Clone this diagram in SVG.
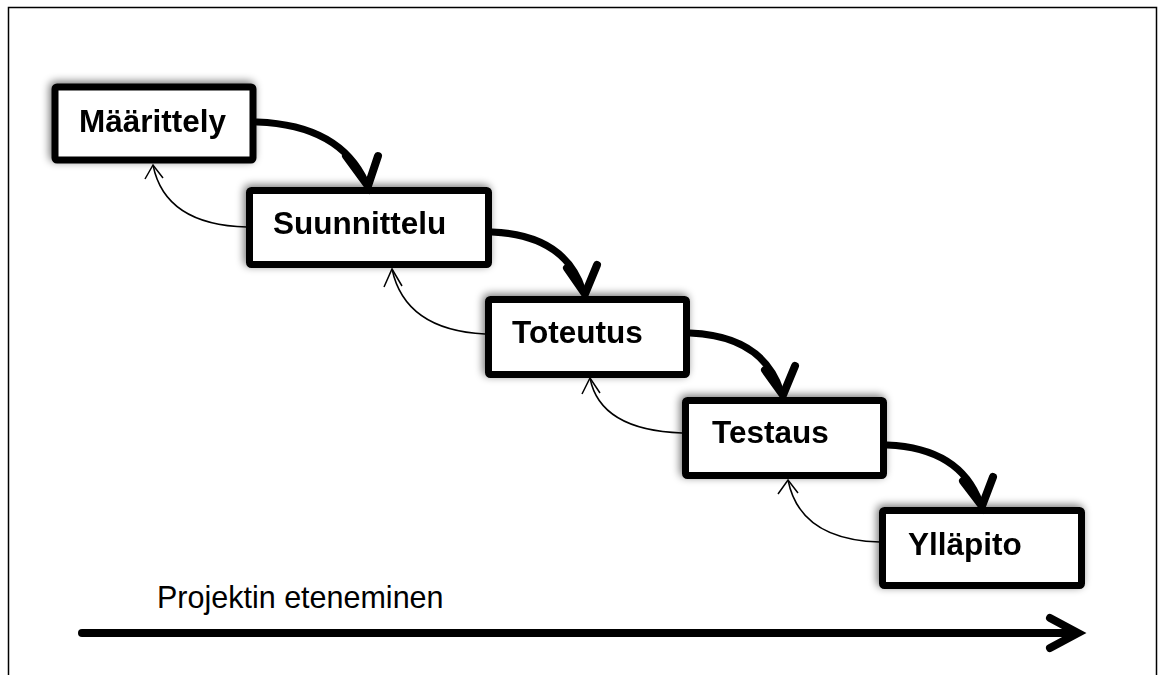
<svg xmlns="http://www.w3.org/2000/svg" width="1163" height="675" viewBox="0 0 1163 675">
  <defs>
    <filter id="shadow" x="-20%" y="-40%" width="140%" height="180%">
      <feGaussianBlur in="SourceAlpha" stdDeviation="4" result="b"/>
      <feOffset in="b" dx="-2" dy="-2" result="o"/>
      <feComponentTransfer in="o" result="s">
        <feFuncA type="linear" slope="0.55"/>
      </feComponentTransfer>
      <feMerge>
        <feMergeNode in="s"/>
        <feMergeNode in="SourceGraphic"/>
      </feMerge>
    </filter>
  </defs>
  <style>
    .box { fill: #ffffff; stroke: #000000; stroke-width: 7; stroke-linejoin: round; }
    .label { font-family: "Liberation Sans", Arial, sans-serif; font-weight: bold; font-size: 31.5px; fill: #000000; }
    .fwd { fill: none; stroke: #000000; stroke-width: 7; stroke-linecap: round; }
    .fwdhead { fill: none; stroke: #000000; stroke-width: 8; stroke-linecap: round; stroke-linejoin: miter; }
    .back { fill: none; stroke: #000000; stroke-width: 1.5; }
    .backhead { fill: none; stroke: #000000; stroke-width: 1.5; stroke-linecap: butt; }
    .axis { fill: none; stroke: #000000; stroke-width: 8; stroke-linecap: round; stroke-linejoin: miter; }
    .axislabel { font-family: "Liberation Sans", Arial, sans-serif; font-size: 30.5px; fill: #000000; }
  </style>
  <rect x="0" y="0" width="1163" height="675" fill="#ffffff"/>
  <path d="M8.5,675 V7.5 H1156.5 V675" fill="none" stroke="#000000" stroke-width="1.5"/>

  <g id="node-maarittely" filter="url(#shadow)">
    <rect class="box" x="55" y="87" width="198" height="73" rx="2"/>
    <text class="label" x="79" y="132">Määrittely</text>
  </g>
  <g id="node-suunnittelu" filter="url(#shadow)">
    <rect class="box" x="249.5" y="190.5" width="239" height="74" rx="2"/>
    <text class="label" x="273" y="234">Suunnittelu</text>
  </g>
  <g id="node-toteutus" filter="url(#shadow)">
    <rect class="box" x="488.5" y="299.5" width="198" height="75" rx="2"/>
    <text class="label" x="512" y="343">Toteutus</text>
  </g>
  <g id="node-testaus" filter="url(#shadow)">
    <rect class="box" x="685.5" y="400.5" width="198" height="75" rx="2"/>
    <text class="label" x="712" y="443">Testaus</text>
  </g>
  <g id="node-yllapito" filter="url(#shadow)">
    <rect class="box" x="882.5" y="510.5" width="199" height="75" rx="2"/>
    <text class="label" x="908" y="555">Ylläpito</text>
  </g>

  <g id="connectors">
    <path class="fwd" d="M257,122 Q340,125 366,183"/>
    <path class="fwdhead" d="M346,156 L368,186 L378,156"/>
    <path class="fwd" d="M492,232 Q565,235 583,291"/>
    <path class="fwdhead" d="M567,268 L585,294 L597,265"/>
    <path class="fwd" d="M690,333 Q763,336 781,392"/>
    <path class="fwdhead" d="M765,370 L783,395 L795,366"/>
    <path class="fwd" d="M887,445 Q960,448 980,503"/>
    <path class="fwdhead" d="M963,481 L982,506 L993,477"/>

    <path class="back" d="M247,227 Q165,225 153,165"/>
    <path class="backhead" d="M145,179 L153,165 L163,178"/>
    <path class="back" d="M485,334 Q405,330 392,269"/>
    <path class="backhead" d="M384,287 L392,269 L402,286"/>
    <path class="back" d="M682,433 Q600,430 590,378"/>
    <path class="backhead" d="M582,394 L590,378 L600,393"/>
    <path class="back" d="M880,542 Q800,540 788,480"/>
    <path class="backhead" d="M778,494 L788,480 L798,493"/>

    <path class="axis" d="M82,633 H1074"/>
    <path class="axis" d="M1050,618 L1078,633 L1050,648"/>
  </g>
  <text class="axislabel" x="157" y="608">Projektin eteneminen</text>
</svg>
